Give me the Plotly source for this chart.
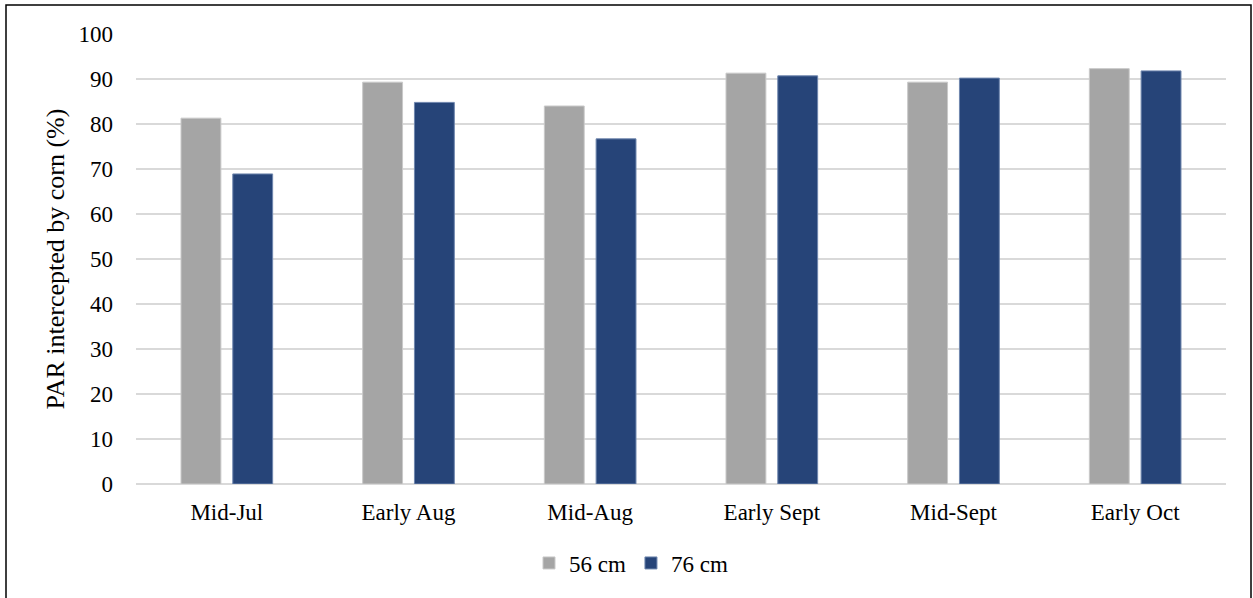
import plotly.graph_objects as go

periods = ["Mid-Jul", "Early Aug", "Mid-Aug", "Early Sept", "Mid-Sept", "Early Oct"]
row_56cm = [81.3, 89.3, 84.0, 91.3, 89.3, 92.3]
row_76cm = [68.9, 84.8, 76.7, 90.7, 90.2, 91.8]

W, H = 1253, 598
L, R, T, B = 136, 27, 34, 114
pw, ph = W - L - R, H - T - B

font = dict(family="Liberation Serif, Times New Roman, serif", size=23, color="#000000")

fig = go.Figure()
fig.add_trace(go.Bar(name="56 cm", x=periods, y=row_56cm,
                     marker=dict(color="#A5A5A5", line=dict(color="#C9C9C9", width=1))))
fig.add_trace(go.Bar(name="76 cm", x=periods, y=row_76cm,
                     marker=dict(color="#264478", line=dict(color="#6F86AE", width=1))))

# outer chart frame
fig.add_shape(type="rect", xref="paper", yref="paper",
              x0=(6 - L) / pw, x1=(1251 - L) / pw,
              y0=-(B + 20) / ph, y1=(H - B - 5) / ph,
              line=dict(color="#000000", width=1.5), fillcolor="rgba(0,0,0,0)", layer="above")

fig.update_layout(
    width=W, height=H,
    margin=dict(l=L, r=R, t=T, b=B),
    paper_bgcolor="white", plot_bgcolor="white",
    font=font,
    barmode="group", bargap=0.43, bargroupgap=0.23,
    showlegend=True,
    legend=dict(orientation="h", x=(631 - L) / pw, xanchor="center", y=-(563 - 484) / ph,
                yanchor="middle", font=dict(size=23), itemwidth=30, traceorder="normal"),
    xaxis=dict(showgrid=False, showline=False, ticks="", ticklabelstandoff=12,
               tickfont=dict(size=23)),
    yaxis=dict(range=[0, 100], dtick=10, showgrid=True, gridcolor="#D9D9D9", gridwidth=1.5,
               zeroline=True, zerolinecolor="#D9D9D9", zerolinewidth=1.5,
               showline=False, ticks="", ticklabelstandoff=22, tickfont=dict(size=23),
               title=dict(text="PAR intercepted by corn (%)", font=dict(size=26), standoff=6)),
)

fig.write_html("out.html")
